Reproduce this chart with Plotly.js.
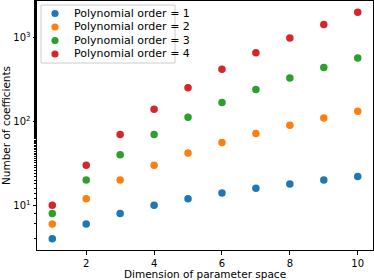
<!DOCTYPE html>
<html><head><meta charset="utf-8">
<script src="https://cdn.plot.ly/plotly-3.0.1.min.js"></script>
<style>body{margin:0;padding:0;} #c{width:374px;height:280px;}</style>
</head><body><div id="c"></div>
<script>
const dims = [1,2,3,4,5,6,7,8,9,10];
const order1 = [4,6,8,10,12,14,16,18,20,22];
const order2 = [6,12,20,30,42,56,72,90,110,132];
const order3 = [8,20,40,70,112,168,240,330,440,572];
const order4 = [10,30,70,140,252,420,660,990,1430,2002];
const seriesNames = ['Polynomial order = 1','Polynomial order = 2','Polynomial order = 3','Polynomial order = 4'];
const colors = ['#1f77b4','#ff7f0e','#2ca02c','#d62728'];
const yTickVals = [10,100,1000];
const yTickText = ['10<sup>1</sup>','10<sup>2</sup>','10<sup>3</sup>'];
const allY = [order1,order2,order3,order4];

const W=374, H=280, L=37, R=1, T=1, B=30;
const pw = W-L-R, ph = H-T-B;
const px = x => (x-L)/pw;
const py = y => (H-B-y)/ph;

const traces = allY.map((ys,i)=>({
  x: dims, y: ys, type:'scatter', mode:'markers', name: seriesNames[i],
  marker:{color:colors[i], size:7.5}, showlegend:false
}));

// legend box drawn manually (matplotlib style)
const shapes = [{type:'rect', xref:'paper', yref:'paper', x0:px(41), x1:px(175), y0:py(63), y1:py(5),
  line:{color:'#cccccc', width:1}, fillcolor:'rgba(255,255,255,0.8)', layer:'above'}];
const annotations = [];
const rowY = [13.5, 27, 40.5, 54];
seriesNames.forEach((n,i)=>{
  shapes.push({type:'circle', xref:'paper', yref:'paper', xsizemode:'pixel', ysizemode:'pixel',
    xanchor:px(55), yanchor:py(rowY[i]), x0:-3.6, x1:3.6, y0:-3.6, y1:3.6,
    fillcolor:colors[i], line:{width:0}, layer:'above'});
  annotations.push({xref:'paper', yref:'paper', x:px(71.5), y:py(rowY[i]), xanchor:'left', yanchor:'middle',
    text:n, showarrow:false, font:{family:'DejaVu Sans', size:11, color:'#000'}});
});

const layout = {
  width:W, height:H,
  margin:{l:L, r:R, t:T, b:B},
  paper_bgcolor:'#fff', plot_bgcolor:'#fff',
  font:{family:'DejaVu Sans', size:10, color:'#000'},
  showlegend:false,
  shapes: shapes, annotations: annotations,
  xaxis:{range:[0.55,10.45], tickvals:[2,4,6,8,10], ticks:'outside', ticklen:3.5, tickcolor:'#000',
    showline:true, linecolor:'#000', linewidth:1, mirror:true, showgrid:false, zeroline:false,
    title:{text:'Dimension of parameter space', font:{family:'DejaVu Sans', size:10.5}, standoff:4},
    tickfont:{family:'DejaVu Sans', size:10}},
  yaxis:{type:'log', range:[0.467,3.436], tickvals:yTickVals, ticktext:yTickText, ticks:'outside', ticklen:3.5,
    tickcolor:'#000', showline:true, linecolor:'#000', linewidth:1, mirror:true, showgrid:false, zeroline:false,
    minor:{ticks:'outside', ticklen:2, tickcolor:'#000', showgrid:false},
    title:{text:'Number of coefficients', font:{family:'DejaVu Sans', size:10.5}, standoff:4},
    tickfont:{family:'DejaVu Sans', size:10}}
};
Plotly.newPlot('c', traces, layout, {staticPlot:true, displayModeBar:false});
</script></body></html>
